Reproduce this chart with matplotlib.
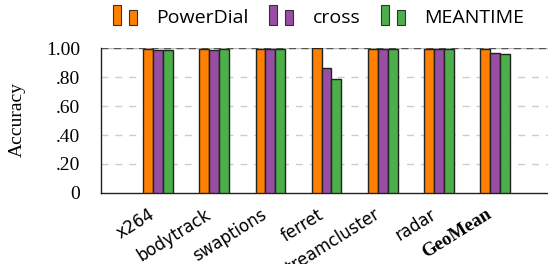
import matplotlib
matplotlib.use("Agg")
import matplotlib.pyplot as plt
import numpy as np
from matplotlib.patches import Rectangle
from matplotlib.legend_handler import HandlerBase

categories = ["x264", "bodytrack", "swaptions", "ferret", "streamcluster", "radar", "GeoMean"]
series_names = ["PowerDial", "cross", "MEANTIME"]
powerdial = [0.99, 0.99, 0.995, 1.0, 0.995, 0.995, 0.995]
cross = [0.985, 0.985, 0.99, 0.86, 0.99, 0.99, 0.966]
meantime = [0.985, 0.99, 0.99, 0.784, 0.995, 0.995, 0.957]
yticks = [0, 0.2, 0.4, 0.6, 0.8, 1.0]
ytick_labels = ["0", ".20", ".40", ".60", ".80", "1.00"]

colors = ["#FF7F00", "#984EA3", "#4DAF4A"]

fig = plt.figure(figsize=(5.48, 2.64), dpi=100)
ax = fig.add_axes([0.1843, 0.269, 0.83, 0.549])

x = np.arange(len(categories))
w = 0.175
for i, (vals, c, name) in enumerate(zip([powerdial, cross, meantime], colors, series_names)):
    ax.bar(x + (i - 1) * w, vals, width=w, color=c, edgecolor="#222222", linewidth=1.0,
           label=name, zorder=3)

ax.set_xlim(-1.014, 7.08)
ax.set_ylim(0, 1.0)
ax.set_yticks(yticks)
ax.set_yticklabels(ytick_labels, fontfamily="Liberation Serif", fontsize=14)
ax.tick_params(axis="y", length=0, pad=15)
ax.tick_params(axis="x", length=0, pad=9)
ax.set_xticks(x - 0.17)
labels = ax.set_xticklabels(categories, rotation=32, ha="right", va="top",
                            rotation_mode="anchor", fontsize=12, fontfamily="DejaVu Sans")
labels[-1].set_fontfamily("Liberation Serif")
labels[-1].set_fontweight("bold")
labels[-1].set_fontsize(13.5)

for yv in yticks[1:-1]:
    ax.axhline(yv, color="#cccccc", linestyle=(0, (5, 5)), linewidth=1.0, zorder=1)
ax.axhline(1.0, color="#bbbbbb", linewidth=1.0, zorder=1)
ax.axhline(1.0, color="#555555", linestyle=(0, (5, 4)), linewidth=1.0, zorder=2)

for s in ["top", "right"]:
    ax.spines[s].set_visible(False)
ax.spines["left"].set_color("#222222")
ax.spines["bottom"].set_color("#222222")
ax.spines["left"].set_linewidth(1.0)
ax.spines["bottom"].set_linewidth(1.0)

fig.text(0.032, 0.549, "Accuracy", rotation=90, ha="center", va="center",
         fontfamily="Liberation Serif", fontsize=14)


class TwoBarHandler(HandlerBase):
    def __init__(self, color):
        super().__init__()
        self.color = color

    def create_artists(self, legend, orig_handle, xdescent, ydescent, width, height, fontsize, trans):
        bw = width / 3.0
        y0 = -ydescent - height * 0.05
        r1 = Rectangle((-xdescent, y0), bw, height * 1.25,
                       facecolor=self.color, edgecolor="#333333", linewidth=0.8, transform=trans)
        r2 = Rectangle((-xdescent + 2 * bw, y0), bw, height * 0.95,
                       facecolor=self.color, edgecolor="#333333", linewidth=0.8, transform=trans)
        return [r1, r2]


handles = [Rectangle((0, 0), 1, 1) for _ in colors]
hmap = {h: TwoBarHandler(c) for h, c in zip(handles, colors)}
fig.legend(handles, series_names, handler_map=hmap, loc="upper left",
           bbox_to_anchor=(0.206, 0.97), ncol=3, frameon=False, borderpad=0,
           borderaxespad=0, prop={"family": "Open Sans", "size": 14}, handlelength=1.24,
           handleheight=0.9, columnspacing=1.05, handletextpad=1.0)

fig.savefig("out.png", dpi=100)
